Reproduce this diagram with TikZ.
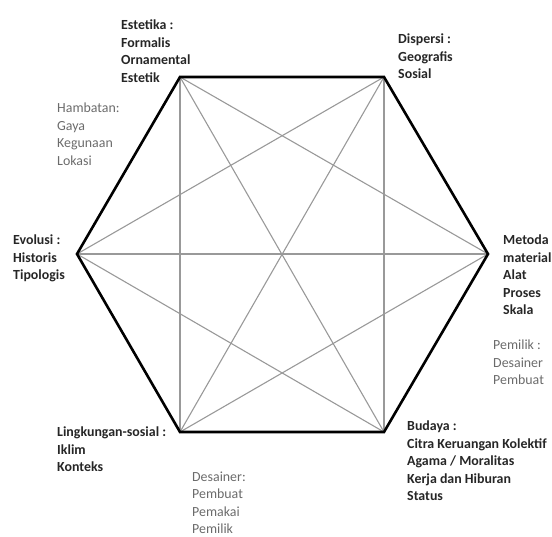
\documentclass[tikz,border=0pt]{standalone}
\usepackage{fontspec}
\setmainfont{Carlito}
\begin{document}
\begin{tikzpicture}[x=1pt,y=-1pt,
  lbl/.style={anchor=north west,inner sep=0pt,align=left,font=\fontsize{13.9}{17.4}\selectfont\bfseries,text=black!85},
  sub/.style={anchor=north west,inner sep=0pt,align=left,font=\fontsize{13.9}{17.4}\selectfont,text=black!58},
  diag/.style={draw=black!40,line width=1.1pt},
  hexline/.style={draw=black,line width=2.6pt,line join=miter}]
\useasboundingbox (0,0) rectangle (552,536);
\coordinate (TL) at (180,77);
\coordinate (TR) at (384,77);
\coordinate (R) at (488,254);
\coordinate (BR) at (384,432);
\coordinate (BL) at (180,432);
\coordinate (L) at (77,254);
% diagonals
\draw[diag] (TL) -- (BL);
\draw[diag] (TR) -- (BR);
\draw[diag] (L) -- (R);
\draw[diag] (TL) -- (R);
\draw[diag] (TL) -- (BR);
\draw[diag] (TR) -- (L);
\draw[diag] (TR) -- (BL);
\draw[diag] (R) -- (BL);
\draw[diag] (BR) -- (L);
% hexagon
\draw[hexline] (TL) -- (TR) -- (R) -- (BR) -- (BL) -- (L) -- cycle;
% labels
\node[lbl] (estetika) at (121,20) {Estetika :\\Formalis\\Ornamental\\Estetik};
\node[sub] (hambatan) at (57,103) {Hambatan:\\Gaya\\Kegunaan\\Lokasi};
\node[lbl] (evolusi) at (13,235) {Evolusi :\\Historis\\Tipologis};
\node[lbl] (dispersi) at (398,34) {Dispersi :\\Geografis\\Sosial};
\node[lbl] (metoda) at (503,235) {Metoda\\material\\Alat\\Proses\\Skala};
\node[sub] (pemilik) at (493,340) {Pemilik :\\Desainer\\Pembuat};
\node[lbl] (budaya) at (407,421) {Budaya :\\Citra Keruangan Kolektif\\Agama / Moralitas\\Kerja dan Hiburan\\Status};
\node[lbl] (lingkungan) at (57,427) {Lingkungan-sosial :\\Iklim\\Konteks};
\node[sub] (desainer) at (192,471.5) {Desainer:\\Pembuat\\Pemakai\\Pemilik};
\end{tikzpicture}
\end{document}
